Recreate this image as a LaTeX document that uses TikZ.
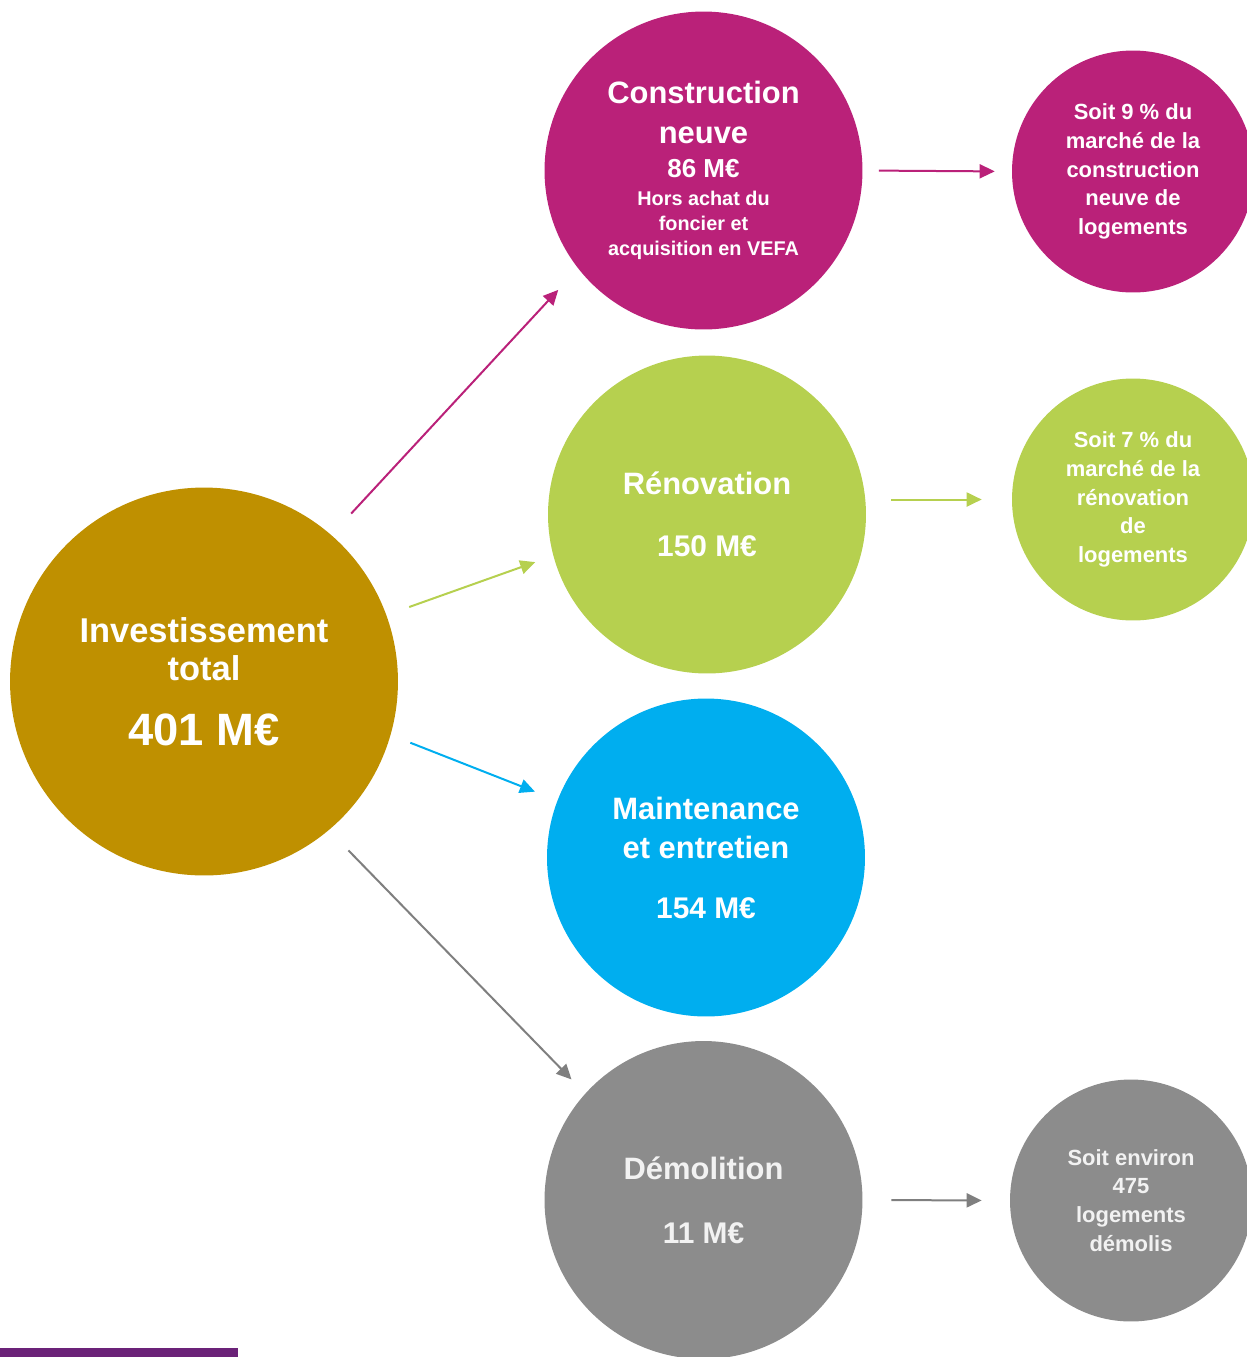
\documentclass[tikz,border=0pt]{standalone}
\usepackage{fontspec}
\setmainfont{Liberation Sans}
\usetikzlibrary{arrows.meta}
\definecolor{invest}{HTML}{BF9000}
\definecolor{neuf}{HTML}{BA2179}
\definecolor{renov}{HTML}{B6D04F}
\definecolor{entretien}{HTML}{00AEEF}
\definecolor{demol}{HTML}{8C8C8C}
\definecolor{demolfleche}{HTML}{7F7F7F}
\definecolor{gristexte}{HTML}{F2F2F2}
\definecolor{bandeau}{HTML}{6B2278}
\newcommand\grostitre{\fontsize{19.6pt}{22.1pt}\selectfont\bfseries}
\newcommand\grosmontant{\fontsize{25.8pt}{30pt}\selectfont\bfseries}
\newcommand\titre{\fontsize{17.6pt}{22.7pt}\selectfont\bfseries}
\newcommand\montant{\fontsize{17pt}{22pt}\selectfont\bfseries}
\newcommand\petitmontant{\fontsize{14.8pt}{19.3pt}\selectfont\bfseries}
\newcommand\remarque{\fontsize{11.3pt}{14.4pt}\selectfont\bfseries}
\newcommand\cote{\fontsize{12.5pt}{16.4pt}\selectfont\bfseries}

\begin{document}
\begin{tikzpicture}[
  x=0.02cm, y=-0.02cm,
  every node/.style={text=white, align=center},
  bulle/.style={circle, inner sep=0pt, minimum size=6.36cm, font=\titre},
  petite/.style={circle, inner sep=0pt, minimum size=4.84cm, font=\cote},
  fleche/.style={-{Triangle[length=0.3cm, width=0.28cm]}, line width=0.04cm}
]
\useasboundingbox (0,0) rectangle (1247,1357);

% === Investissement total ===
\node[bulle, fill=invest, minimum size=7.76cm, font=\grostitre] (total) at (204,681.5)
  {Investissement\\total\\[14.7pt]\grosmontant 401 M€};

% === Middle column ===
\node[bulle, fill=neuf] (neuve) at (703.5,170.5)
  {Construction\\neuve\\[-3.4pt]\petitmontant 86 M€\\[-6.8pt]\remarque Hors achat du\\[-8pt]\remarque foncier et\\[-8.5pt]\remarque acquisition en VEFA};
\node[bulle, fill=renov] (renovation) at (707,514.5)
  {Rénovation\\[12.6pt]\montant 150 M€};
\node[bulle, fill=entretien] (maintenance) at (706,857.5)
  {Maintenance\\et entretien\\[10.9pt]\montant 154 M€};
\node[bulle, fill=demol, text=gristexte] (demolition) at (703.5,1200)
  {Démolition\\[13.7pt]\montant 11 M€};

% === Right column ===
\node[petite, fill=neuf] (partneuf) at (1133,171.5)
  {Soit 9 \% du\\marché de la\\construction\\neuve de\\logements};
\node[petite, fill=renov] (partrenov) at (1133,499.5)
  {Soit 7 \% du\\marché de la\\rénovation\\de\\logements};
\node[petite, fill=demol, text=gristexte] (partdemol) at (1131,1200.5)
  {Soit environ\\475\\logements\\démolis};

% Arrows from the total
\draw[fleche, neuf, shorten <=0.58cm, shorten >=0.58cm] (total.49.5) -- (neuve.218.5);
\draw[fleche, renov, shorten <=0.48cm, shorten >=0.38cm] (total.20) -- (renovation.195);
\draw[fleche, entretien, shorten <=0.42cm, shorten >=0.48cm] (total.-16) -- (maintenance.159);
\draw[fleche, demolfleche, shorten <=0.56cm, shorten >=0.39cm] (total.-50.5) -- (demolition.138);

% Arrows to the right column
\draw[fleche, neuf, shorten <=0.32cm, shorten >=0.34cm] (neuve.east) -- (partneuf.west);
\draw[fleche, renov, shorten <=0.5cm, shorten >=0.6cm] (renovation.east |- partrenov.west) -- (partrenov.west);
\draw[fleche, demolfleche, shorten <=0.57cm, shorten >=0.56cm] (demolition.east) -- (partdemol.west);

% bottom bar
\fill[bandeau] (0,1348) rectangle (238,1357);
\end{tikzpicture}
\end{document}
